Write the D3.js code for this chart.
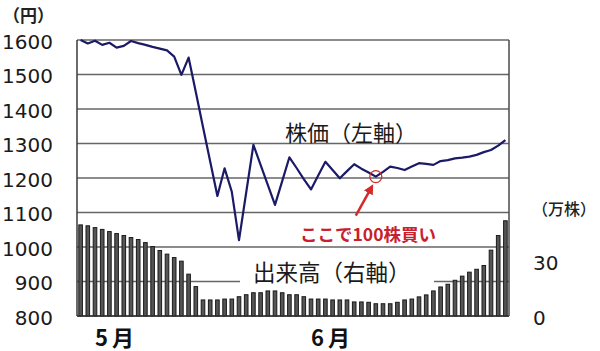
<!DOCTYPE html>
<html>
<head>
<meta charset="utf-8">
<script src="https://cdn.jsdelivr.net/npm/d3@7"></script>
<style>
  body { margin: 0; background: #fff; }
  svg { display: block; }
</style>
</head>
<body>
<div id="chart"></div>
<script>
// daily closing price (円), 60 trading days
const prices = [1600, 1590, 1598, 1586, 1592, 1578, 1583, 1597, 1591, 1586,
    1580, 1575, 1570, 1552, 1499, 1549, 1449, 1348, 1248, 1148,
    1228, 1160, 1020, 1158, 1296, 1238, 1180, 1122, 1191, 1260,
    1229, 1197, 1167, 1207, 1247, 1223, 1199, 1220, 1240, 1227,
    1216, 1204, 1218, 1233, 1229, 1223, 1233, 1243, 1241, 1238,
    1249, 1252, 1257, 1259, 1262, 1267, 1275, 1281, 1294, 1310];

// daily volume (万株)
const volumes = [50.5, 50, 49, 48, 46.8, 45.7, 44.6, 43.5, 42.4, 40.7,
    38.5, 36.3, 34.3, 32.4, 30.4, 23.2, 16.3, 8.9, 8.9, 8.9,
    9.4, 9.4, 10.7, 11.8, 12.9, 12.9, 13.9, 13.9, 12.9, 11.8,
    11.8, 10.7, 9.4, 9.4, 9.4, 8.9, 8.9, 8.9, 7.8, 7.8,
    7.6, 6.8, 6.8, 6.8, 7.6, 8.9, 9.4, 10.6, 11.7, 13.9,
    16.1, 17.6, 19.8, 22.1, 24.3, 25.9, 28, 36.5, 44.6, 52.8];

const days = d3.range(prices.length);
const priceTicks = [800, 900, 1000, 1100, 1200, 1300, 1400, 1500, 1600];
const volumeTicks = [0, 30];
const monthLabels = ["5月", "6月"];
const monthDays = [5, 35];
const buyDay = 41;

const W = 600, H = 351;
const margin = { top: 40, right: 91, bottom: 35, left: 77 };
const width = W - margin.left - margin.right;
const height = H - margin.top - margin.bottom;

const cjk = "'Noto Sans CJK JP', 'Noto Sans', sans-serif";
const num = "'DejaVu Sans', sans-serif";

const svg = d3.select("#chart").append("svg")
    .attr("width", W)
    .attr("height", H);

const g = svg.append("g")
    .attr("transform", "translate(" + margin.left + "," + margin.top + ")");

// scales
const x = d3.scaleBand()
    .domain(days)
    .range([0, width])
    .paddingInner(0.5)
    .paddingOuter(0.25);
const cx = d => x(d) + x.bandwidth() / 2;

const y = d3.scaleLinear().domain([800, 1600]).range([height, 0]);
const yVol = d3.scaleLinear().domain([0, 153]).range([height, 0]);

// gridlines
g.append("g")
    .selectAll("line")
    .data(priceTicks)
    .join("line")
    .attr("x1", 0).attr("x2", width)
    .attr("y1", d => y(d)).attr("y2", d => y(d))
    .attr("stroke", "#666")
    .attr("stroke-width", 1.5);

// white box behind the volume label
g.append("rect")
    .attr("x", 163).attr("y", 218)
    .attr("width", 194).attr("height", 30)
    .attr("fill", "#fff");

// volume bars
g.append("g")
    .selectAll("rect")
    .data(days)
    .join("rect")
    .attr("x", d => x(d))
    .attr("y", d => yVol(volumes[d]))
    .attr("width", x.bandwidth())
    .attr("height", d => height - yVol(volumes[d]))
    .attr("fill", "#555")
    .attr("stroke", "#1a1a1a")
    .attr("stroke-width", 1);

// frame sides
g.append("line").attr("x1", 0).attr("x2", 0).attr("y1", 0).attr("y2", height)
    .attr("stroke", "#3a3a3a").attr("stroke-width", 1.5);
g.append("line").attr("x1", width).attr("x2", width).attr("y1", 0).attr("y2", height)
    .attr("stroke", "#4a4a4a").attr("stroke-width", 1.5);
g.append("line").attr("x1", 0).attr("x2", width).attr("y1", height).attr("y2", height)
    .attr("stroke", "#333").attr("stroke-width", 1.5);

// price line
const line = d3.line()
    .x(d => cx(d))
    .y(d => y(prices[d]));
g.append("path")
    .datum(days)
    .attr("d", line)
    .attr("fill", "none")
    .attr("stroke", "#1a1a66")
    .attr("stroke-width", 2.2)
    .attr("stroke-linejoin", "round");

// left axis
const leftAxis = g.append("g")
    .call(d3.axisLeft(y).tickValues(priceTicks).tickFormat(d3.format("d"))
        .tickSize(0).tickPadding(24));
leftAxis.select(".domain").remove();
leftAxis.selectAll("text")
    .attr("dy", "0.4em")
    .style("font-family", num)
    .style("font-size", "20px")
    .attr("fill", "#1a1a1a");

// right axis
const rightAxis = g.append("g")
    .attr("transform", "translate(" + width + ",0)")
    .call(d3.axisRight(yVol).tickValues(volumeTicks).tickFormat(d3.format("d"))
        .tickSize(0).tickPadding(24));
rightAxis.select(".domain").remove();
rightAxis.selectAll("text")
    .attr("dy", "0.4em")
    .style("font-family", num)
    .style("font-size", "20px")
    .attr("fill", "#1a1a1a");

// axis titles
svg.append("text")
    .attr("x", 3).attr("y", 22)
    .style("font-family", cjk).style("font-size", "17px").style("font-weight", "bold")
    .attr("fill", "#222")
    .text("（円）");
svg.append("text")
    .attr("x", W - margin.right + 23).attr("y", 215)
    .style("font-family", cjk).style("font-size", "16px").style("font-weight", "500")
    .attr("fill", "#222")
    .text("（万株）");

// month labels
g.append("g")
    .selectAll("text")
    .data(monthLabels)
    .join("text")
    .attr("x", (d, i) => cx(monthDays[i]))
    .attr("y", height + 30)
    .attr("text-anchor", "middle")
    .style("font-family", cjk).style("font-size", "22px").style("font-weight", "bold")
    .style("letter-spacing", "4px")
    .attr("fill", "#111")
    .text(d => d);

// series labels
g.append("text")
    .attr("x", 208).attr("y", 91)
    .attr("dominant-baseline", "central")
    .style("font-family", cjk).style("font-size", "22px")
    .attr("fill", "#1a1a1a")
    .text("株価（左軸）");
g.append("text")
    .attr("x", 176).attr("y", 231)
    .attr("dominant-baseline", "central")
    .style("font-family", cjk).style("font-size", "22.5px")
    .attr("fill", "#1a1a1a")
    .text("出来高（右軸）");

// buy annotation
const bx = cx(buyDay), by = y(prices[buyDay]);
svg.append("defs").append("marker")
    .attr("id", "head")
    .attr("viewBox", "0 0 10 10")
    .attr("refX", 5).attr("refY", 5)
    .attr("markerWidth", 4).attr("markerHeight", 4)
    .attr("orient", "auto")
    .append("path")
    .attr("d", "M0,0L10,5L0,10z")
    .attr("fill", "#d42a2a");

g.append("circle")
    .attr("cx", bx).attr("cy", by).attr("r", 6)
    .attr("fill", "none")
    .attr("stroke", "#d42a2a")
    .attr("stroke-width", 1.3);
g.append("line")
    .attr("x1", bx - 20).attr("y1", by + 39)
    .attr("x2", bx - 5).attr("y2", by + 12)
    .attr("stroke", "#d42a2a")
    .attr("stroke-width", 2.5)
    .attr("marker-end", "url(#head)");
g.append("text")
    .attr("x", 223).attr("y", 193)
    .attr("dominant-baseline", "central")
    .style("font-family", cjk).style("font-size", "17.5px").style("font-weight", "bold")
    .attr("fill", "#c8202c")
    .text("ここで100株買い");
</script>
</body>
</html>
